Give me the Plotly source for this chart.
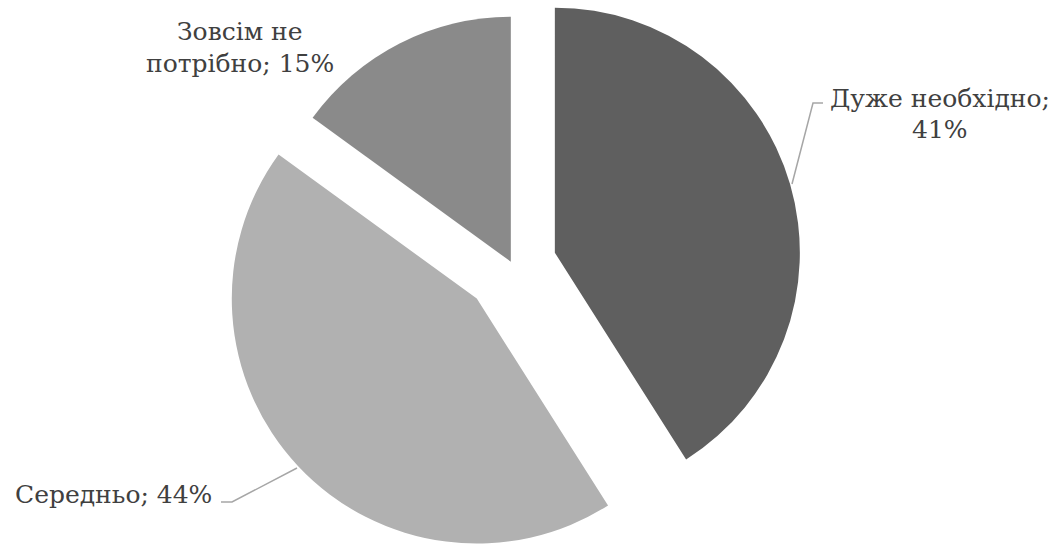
import math
import plotly.graph_objects as go

# Survey answers and their shares (%)
categories = ["Дуже необхідно", "Середньо", "Зовсім не потрібно"]
shares = [41, 44, 15]
label_lines = [["Дуже необхідно;", "{v}%"], ["Середньо; {v}%"], ["Зовсім не", "потрібно; {v}%"]]

slice_colors = ["#5f5f5f", "#b1b1b1", "#8a8a8a"]
explode = [0.18, 0.2, 0.015]  # offset of each slice as a fraction of the radius

W, H = 1064, 545
CX, CY, R = 512.5, 265.0, 245.0  # pie centre and radius in pixels

fig = go.Figure()

# One pie trace per slice so every slice can be offset along its own bisector
total = sum(shares)
cum = 0.0
for i, v in enumerate(shares):
    mid = 2 * math.pi * (cum + v / 2) / total
    cum += v
    ox = CX + explode[i] * R * math.sin(mid)
    oy = CY - explode[i] * R * math.cos(mid)
    colors = ["rgba(0,0,0,0)"] * len(shares)
    colors[i] = slice_colors[i]
    fig.add_trace(go.Pie(
        labels=categories,
        values=shares,
        sort=False,
        direction="clockwise",
        rotation=0,
        marker=dict(colors=colors, line=dict(width=0)),
        textinfo="none",
        hoverinfo="skip",
        showlegend=False,
        domain=dict(
            x=[(ox - R) / W, (ox + R) / W],
            y=[1 - (oy + R) / H, 1 - (oy - R) / H],
        ),
    ))

# Data labels: one annotation per text line, anchored at its baseline centre (pixels)
line_pos = [[(940, 108), (940, 139)], [(113, 504)], [(240, 41), (240, 73)]]
label_font = dict(family="DejaVu Serif", size=25, color="#404040")
for poss, lines, v in zip(line_pos, label_lines, shares):
    for (px, py), l in zip(poss, lines):
        fig.add_annotation(
            x=px / W, y=1 - py / H, xref="paper", yref="paper",
            text=l.format(v=v), showarrow=False, font=label_font,
            xanchor="center", yanchor="bottom", align="center", yshift=-7,
        )

# Leader lines from the slices to their labels
leaders = [
    [(792, 184), (813, 103), (823, 103)],
    [(297, 468), (232, 502), (221, 502)],
]
for pts in leaders:
    path = "M " + " L ".join(f"{x / W},{1 - y / H}" for x, y in pts)
    fig.add_shape(type="path", path=path, xref="paper", yref="paper",
                  line=dict(color="#a6a6a6", width=1.5))

fig.update_layout(
    width=W, height=H,
    margin=dict(l=0, r=0, t=0, b=0),
    paper_bgcolor="white",
    plot_bgcolor="white",
    font=dict(family="DejaVu Serif"),
)

fig.write_html("out.html")
